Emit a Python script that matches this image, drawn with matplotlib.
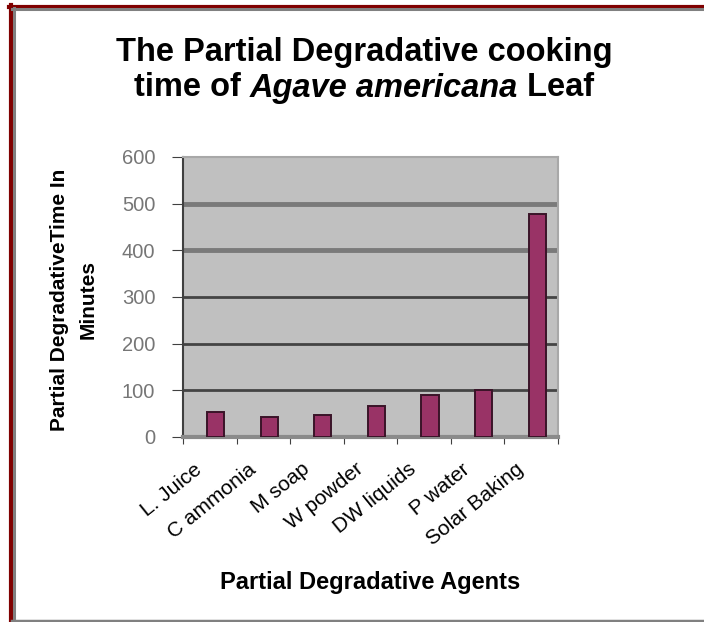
import matplotlib
matplotlib.use("Agg")
import matplotlib.pyplot as plt
from matplotlib.lines import Line2D
from matplotlib.transforms import ScaledTranslation
import numpy as np

plt.rcParams['font.family'] = ['Liberation Sans', 'DejaVu Sans']

agents = ["L. Juice", "C ammonia", "M soap", "W powder", "DW liquids", "P water", "Solar Baking"]
minutes = [54, 42, 48, 67, 91, 100, 478]
y_ticks = [0, 100, 200, 300, 400, 500, 600]

W, H = 704, 622
fig = plt.figure(figsize=(W / 100, H / 100), dpi=100)
fig.patch.set_facecolor("white")

ax = fig.add_axes([183 / W, 1 - 437 / H, (558 - 183) / W, (437 - 157) / H])
ax.set_facecolor("#c0c0c0")

x = np.arange(len(agents))
ax.bar(x + 0.11, minutes, width=0.32, color="#993366",
       edgecolor="#3a1428", linewidth=1.4, zorder=3)

ax.set_xlim(-0.5, len(agents) - 0.5)
ax.set_ylim(y_ticks[0], y_ticks[-1])
ax.set_yticks(y_ticks)
ax.set_yticklabels([str(v) for v in y_ticks], color="#767676", fontsize=14.5)

# ticks sit on category boundaries, labels at category centres
ax.set_xticks(np.arange(len(agents) + 1) - 0.5)
ax.set_xticklabels([])
ax.set_xticks(x, minor=True)
ax.set_xticklabels(agents, minor=True, rotation=39, ha="right", va="center",
                   rotation_mode="anchor", fontsize=15)
ax.tick_params(axis="x", which="minor", length=0, pad=0)
ax.tick_params(axis="x", which="major", length=5, color="#404040", direction="out")
ax.tick_params(axis="y", length=8, color="#404040", direction="out", pad=12)
shift = ScaledTranslation(-10 / 100, -30 / 100, fig.dpi_scale_trans)
for lab in ax.get_xticklabels(minor=True):
    lab.set_transform(lab.get_transform() + shift)

ax.yaxis.grid(True, color="#444444", linewidth=2, zorder=1)
ax.set_axisbelow(True)
for line, v in zip(ax.get_ygridlines(), y_ticks):
    if v in (400, 500):
        line.set_color("#7a7a7a")
        line.set_linewidth(3.5)
    if v in (0, 600):
        line.set_visible(False)

for s in ("top", "right"):
    ax.spines[s].set_color("#a8a8a8")
    ax.spines[s].set_linewidth(1.5)
ax.spines["left"].set_color("#404040")
ax.spines["bottom"].set_color("#8a8a8a")
ax.spines["left"].set_linewidth(1.5)
ax.spines["bottom"].set_linewidth(3)

ax.set_xlabel("Partial Degradative Agents", fontsize=17, fontweight="bold")
ax.xaxis.set_label_coords((370 - 183) / 375, (437 - 582) / 280)
ax.xaxis.label.set_va("center")

ax.set_ylabel("Partial DegradativeTime In\nMinutes", fontsize=15, fontweight="bold",
              linespacing=1.6)
ax.yaxis.set_label_coords((74 - 183) / 375, 0.49)
ax.yaxis.label.set_va("center")

# title, with the species name set in italics
title_size = 23.5
fig.text(364 / W, 1 - 52 / H, "The Partial Degradative cooking", ha="center", va="center",
         fontsize=title_size, fontweight="bold")
pieces = [("time of ", "normal"), ("Agave americana", "italic"), (" Leaf", "normal")]
renderer = fig.canvas.get_renderer()
texts = []
for s, style in pieces:
    t = fig.text(0, 1 - 88 / H, s, ha="left", va="center", fontsize=title_size,
                 fontweight="bold", fontstyle=style)
    texts.append(t)
widths = [t.get_window_extent(renderer).width for t in texts]
xpos = 364 - sum(widths) / 2
for t, w in zip(texts, widths):
    t.set_x(xpos / W)
    xpos += w

# chart frame
def fline(xs, ys, color, lw):
    fig.add_artist(Line2D([v / W for v in xs], [1 - v / H for v in ys],
                          color=color, linewidth=lw, transform=fig.transFigure))

fline([10.5, 10.5], [5, 622], "#800000", 3)
fline([9, 704], [6.5, 6.5], "#800000", 3)
fline([13.5, 13.5], [8, 622], "#808080", 2.2)
fline([12, 704], [9, 9], "#808080", 2.2)
fline([12, 704], [621, 621], "#808080", 2.5)

fig.savefig("out.png", dpi=100)
